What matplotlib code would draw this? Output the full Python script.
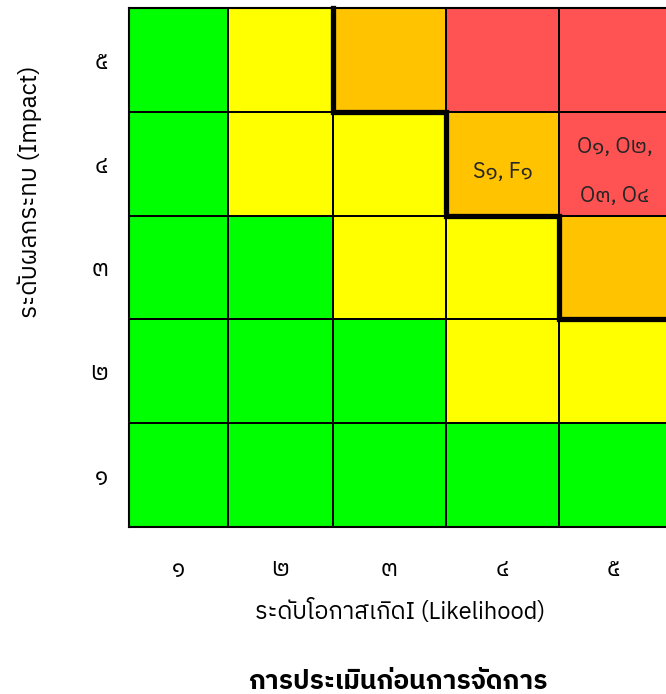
import matplotlib
matplotlib.use("Agg")
import matplotlib.pyplot as plt
import numpy as np
from matplotlib.colors import ListedColormap

plt.rcParams['font.family'] = ['IBM Plex Sans Thai', 'Noto Sans', 'DejaVu Sans']

# levels: 0 green, 1 yellow, 2 orange, 3 red  (rows = impact 1..5, cols = likelihood 1..5)
risk_level = np.array([
    [0, 0, 0, 0, 0],   # impact 1
    [0, 0, 0, 1, 1],   # impact 2
    [0, 0, 1, 1, 2],   # impact 3
    [0, 1, 1, 2, 3],   # impact 4
    [0, 1, 2, 3, 3],   # impact 5
])
level_colors = ['#00ff00', '#ffff00', '#ffc300', '#ff5252']
tick_labels = ['๑', '๒', '๓', '๔', '๕']
# risk items: (likelihood, impact, text)
items = [
    (4, 4, ['S๑, F๑']),
    (5, 4, ['O๑, O๒,', 'O๓, O๔']),
]
# acceptable-risk boundary: column index where the line steps down, per impact row
boundary = [(2, 5), (2, 4), (3, 4), (3, 3), (4, 3), (4, 2), (5, 2)]

# table column widths (pixels in the original layout)
col_edges = np.array([0, 99, 204, 317, 430, 538])
row_edges = np.arange(6)

fig = plt.figure(figsize=(6.66, 6.94), dpi=100)
ax = fig.add_axes([129 / 666, 1 - 527 / 694, 538 / 666, 519 / 694])
ax.pcolormesh(col_edges, row_edges, risk_level, cmap=ListedColormap(level_colors),
              vmin=-0.5, vmax=3.5, edgecolor='black', linewidth=1.3)

bx = [col_edges[c] for c, r in boundary]
by = [r for c, r in boundary]
ax.plot(bx, by, color='black', linewidth=3.8, solid_joinstyle='miter', clip_on=False)

for lk, im, lines in items:
    cx = (col_edges[lk - 1] + col_edges[lk]) / 2
    cy = im - 0.5
    if len(lines) == 1:
        ax.text(cx, cy - 0.08, lines[0], ha='center', va='center', fontsize=15.5, color='#262626')
    else:
        ax.text(cx + 2, cy + 0.16, lines[0], ha='center', va='center', fontsize=15.5, color='#262626')
        ax.text(cx + 2, cy - 0.31, lines[1], ha='center', va='center', fontsize=15.5, color='#262626')

ax.set_xlim(0, 538)
ax.set_ylim(0, 5)
ax.set_xticks((col_edges[:-1] + col_edges[1:]) / 2)
ax.set_xticklabels(tick_labels, fontsize=17)
ax.set_yticks(row_edges[:-1] + 0.5)
ax.set_yticklabels(tick_labels, fontsize=17)
ax.tick_params(axis='x', length=0, pad=22)
ax.tick_params(axis='y', length=0, pad=15)
for s in ax.spines.values():
    s.set_linewidth(1.5)
ax.spines['right'].set_visible(False)

fig.text(400 / 666, 1 - 612 / 694, 'ระดับโอกาสเกิดI (Likelihood)', ha='center', va='center', fontsize=17)
fig.text(30 / 666, 1 - 192 / 694, 'ระดับผลกระทบ (Impact)', ha='center', va='center', rotation=90, fontsize=17.5)
fig.text(398 / 666, 1 - 682 / 694, 'การประเมินก่อนการจัดการ', ha='center', va='center', fontsize=19,
         fontweight='bold')

fig.savefig('out.png')
